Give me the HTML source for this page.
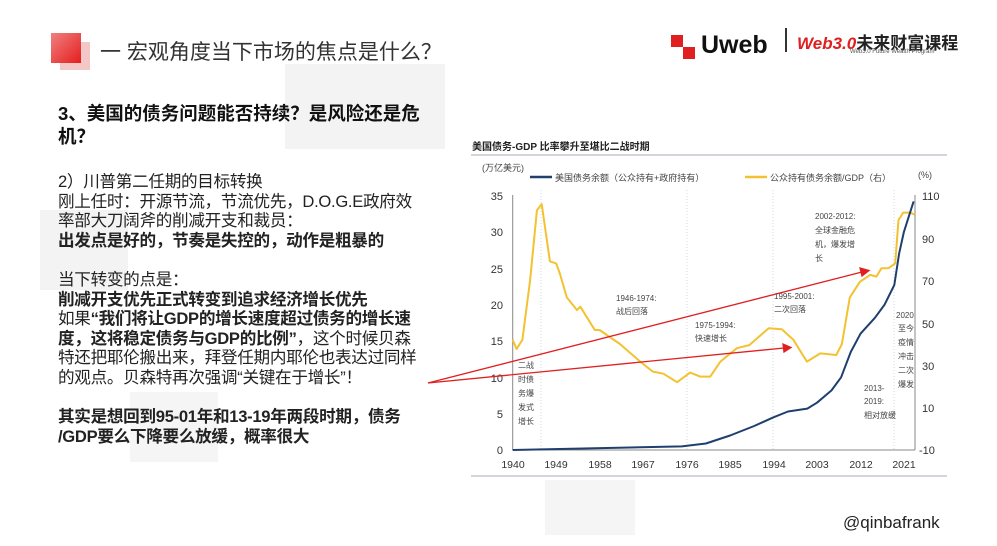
<!DOCTYPE html>
<html><head><meta charset="utf-8"><style>
body{margin:0;width:997px;height:546px;background:#fff;position:relative;overflow:hidden;font-family:"Liberation Sans","Noto Sans CJK SC",sans-serif;}
.t{position:absolute;white-space:nowrap;color:#222;}
.b{font-weight:bold;}
</style></head><body>
<div style="position:absolute;left:285px;top:64px;width:160px;height:85px;background:#f3f3f3"></div>
<div style="position:absolute;left:40px;top:210px;width:88px;height:80px;background:#f3f3f3"></div>
<div style="position:absolute;left:130px;top:392px;width:88px;height:70px;background:#f5f5f5"></div>
<div style="position:absolute;left:545px;top:480px;width:90px;height:55px;background:#f5f5f5"></div>
<div style="position:absolute;left:60px;top:42px;width:30px;height:28px;background:#f4c7c7"></div>
<div style="position:absolute;left:51px;top:33px;width:30px;height:30px;background:linear-gradient(135deg,#f08080,#e41e1e)"></div>
<div class="t" style="left:100px;top:36px;font-size:21px;color:#333">一 宏观角度当下市场的焦点是什么？</div>
<div class="t b" style="left:58px;top:102px;font-size:18.5px;line-height:23px;color:#111">3、美国的债务问题能否持续？是风险还是危<br>机？</div>
<div class="t" style="left:58px;top:172px;font-size:16.6px;line-height:19.6px;letter-spacing:-0.3px;color:#222">
2）川普第二任期的目标转换<br>刚上任时：开源节流，节流优先，D.O.G.E政府效<br>率部大刀阔斧的削减开支和裁员：<br><b>出发点是好的，节奏是失控的，动作是粗暴的</b><br><br>当下转变的点是：<br><b>削减开支优先正式转变到追求经济增长优先</b><br>如果<b>“我们将让GDP的增长速度超过债务的增长速<br>度，这将稳定债务与GDP的比例”</b>，这个时候贝森<br>特还把耶伦搬出来，拜登任期内耶伦也表达过同样<br>的观点。贝森特再次强调“关键在于增长”！<br><br><b>其实是想回到95-01年和13-19年两段时期，债务<br>/GDP要么下降要么放缓，概率很大</b></div>
<div style="position:absolute;left:671px;top:35px;width:12px;height:12px;background:#e02020"></div>
<div style="position:absolute;left:683px;top:47px;width:12px;height:12px;background:#e02020"></div>
<div class="t b" style="left:701px;top:31px;font-size:25px;color:#111">Uweb</div>
<div style="position:absolute;left:785px;top:28px;width:2px;height:24px;background:#333"></div>
<div class="t b" style="left:797px;top:29px;font-size:17px;color:#222"><i style="color:#e02020">Web3.0</i>未来财富课程</div>
<div class="t" style="left:850px;top:49px;font-size:6px;color:#555">Web3.0 Future Wealth Program</div>
<div class="t" style="left:843px;top:513px;font-size:17px;color:#222">@qinbafrank</div>
<svg width="997" height="546" style="position:absolute;left:0;top:0" font-family="Liberation Sans,Noto Sans CJK SC,sans-serif">
<text x="472" y="150" font-size="10" font-weight="bold" fill="#222">美国债务-GDP 比率攀升至堪比二战时期</text>
<line x1="471" y1="155" x2="947" y2="155" stroke="#aab" stroke-width="1"/>
<line x1="471" y1="476" x2="947" y2="476" stroke="#aab" stroke-width="1"/>
<text x="482" y="171" font-size="9" fill="#444">(万亿美元)</text>
<text x="918" y="178" font-size="9" fill="#444">(%)</text>
<line x1="530" y1="177" x2="552" y2="177" stroke="#1f3f6e" stroke-width="2.5"/>
<text x="555" y="181" font-size="9" fill="#444">美国债务余额（公众持有+政府持有）</text>
<line x1="745" y1="177" x2="767" y2="177" stroke="#f2c230" stroke-width="2.5"/>
<text x="770" y="181" font-size="9" fill="#444">公众持有债务余额/GDP（右）</text>
<g stroke="#c8d0dc" stroke-dasharray="1,2" stroke-width="0.8">
<line x1="541" y1="190" x2="541" y2="450"/><line x1="687" y1="190" x2="687" y2="450"/><line x1="773" y1="190" x2="773" y2="450"/><line x1="894" y1="190" x2="894" y2="450"/>
</g>
<line x1="512.7" y1="195" x2="512.7" y2="450" stroke="#888"/>
<line x1="512.7" y1="450" x2="915" y2="450" stroke="#888"/>
<line x1="915" y1="195" x2="915" y2="450" stroke="#888"/>
<g font-size="11" fill="#333" text-anchor="end">
<text x="503" y="200">35</text><text x="503" y="236">30</text><text x="503" y="273">25</text><text x="503" y="309">20</text><text x="503" y="345">15</text><text x="503" y="382">10</text><text x="503" y="418">5</text><text x="503" y="454">0</text>
</g>
<g font-size="11" fill="#333">
<text x="922" y="200">110</text><text x="922" y="243">90</text><text x="922" y="285">70</text><text x="922" y="328">50</text><text x="922" y="370">30</text><text x="922" y="412">10</text><text x="919" y="454">-10</text>
</g>
<g font-size="10.5" fill="#333" text-anchor="middle">
<text x="513" y="468">1940</text><text x="556" y="468">1949</text><text x="600" y="468">1958</text><text x="643" y="468">1967</text><text x="687" y="468">1976</text><text x="730" y="468">1985</text><text x="774" y="468">1994</text><text x="817" y="468">2003</text><text x="861" y="468">2012</text><text x="904" y="468">2021</text>
</g>
<polyline fill="none" stroke="#f2c230" stroke-width="2" stroke-linejoin="round" points="512.7,339.8 516.6,349 522.4,339.8 530.1,280.4 536.9,210.4 541.7,204.1 549.9,261.3 556.2,263.4 560,274 566.8,297.4 577,310.1 580.3,306.7 594.8,330 599.6,330 619.9,344 640.2,361.6 652.8,371.6 663.4,373.7 677.1,382.2 690.1,372.6 700.1,376.6 710.3,376.6 720.4,361.6 736.8,348.2 749.3,345.1 768.7,328.3 781.8,329.2 793.4,339.8 806.9,361.6 820.3,353.4 836.3,355 841.9,344 849.8,297.4 860,281.7 870.2,274.9 876.4,276.6 881.4,268.3 888.3,268.3 895.2,263.4 898.5,220 903.3,212.6 910,212.6 914.9,214.7"/>
<polyline fill="none" stroke="#1f3f6e" stroke-width="2" stroke-linejoin="round" points="512.7,450 681.8,446.4 705.9,443.5 730.1,435.5 754.2,426 773.5,417.3 788,411.5 807.3,408.6 817,402.7 831.5,390.4 841.1,377.3 850.8,351.9 860.5,333.7 875,317.7 884.6,304.6 894.3,285 899.1,253.7 903.9,231.9 913.6,201.4"/>
<g font-size="8" fill="#444">
<text x="616" y="301">1946-1974:</text><text x="616" y="314">战后回落</text>
<text x="695" y="328">1975-1994:</text><text x="695" y="341">快速增长</text>
<text x="774" y="299">1995-2001:</text><text x="774" y="312">二次回落</text>
<text x="815" y="219">2002-2012:</text><text x="815" y="233">全球金融危</text><text x="815" y="247">机，爆发增</text><text x="815" y="261">长</text>
<text x="864" y="391">2013-</text><text x="864" y="404">2019:</text><text x="864" y="418">相对放缓</text>
<text x="896" y="318">2020</text><text x="898" y="331">至今</text><text x="898" y="345">疫情</text><text x="898" y="359">冲击</text><text x="898" y="373">二次</text><text x="898" y="387">爆发</text>
<text x="518" y="368">二战</text><text x="518" y="382">时债</text><text x="518" y="396">务爆</text><text x="518" y="410">发式</text><text x="518" y="424">增长</text>
</g>
<g stroke="#e02020" stroke-width="1.3" fill="#e02020">
<line x1="428" y1="383" x2="862" y2="272"/><polygon points="869,270.5 860,268 862,276"/>
<line x1="428" y1="383" x2="784" y2="348"/><polygon points="791,347.5 783,344 784,352"/>
</g>
</svg>
</body></html>
